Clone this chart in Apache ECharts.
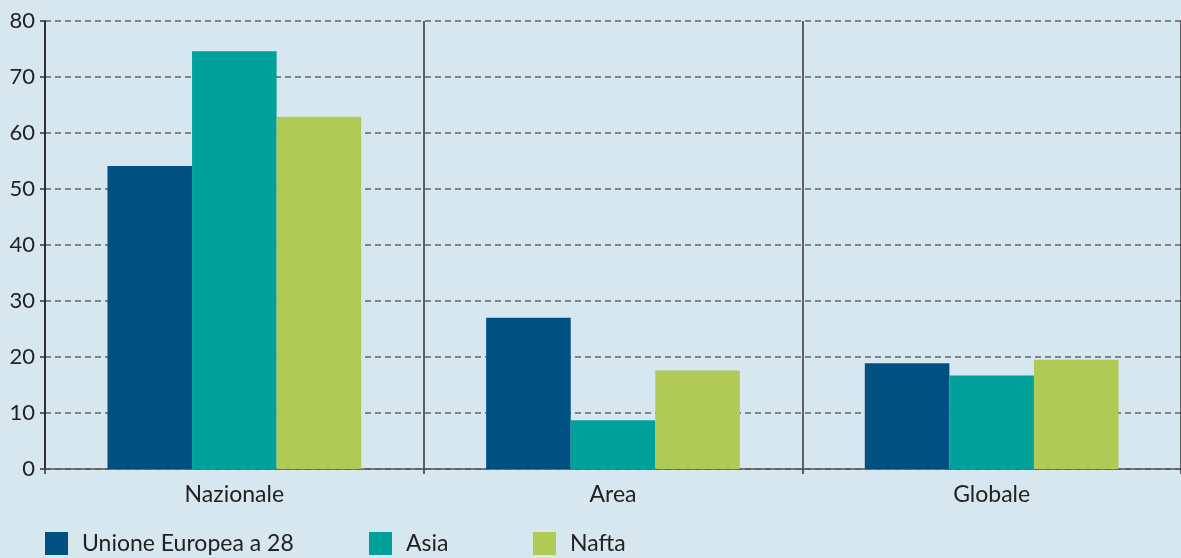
<!DOCTYPE html>
<html><head><meta charset="utf-8">
<script src="https://cdn.jsdelivr.net/npm/echarts@6/dist/echarts.min.js"></script>
<style>html,body{margin:0;padding:0;background:#d7e7ef;}#c{width:1181px;height:558px;}</style>
</head><body><div id="c"></div>
<script>
const categories = ['Nazionale', 'Area', 'Globale'];
const seriesNames = ['Unione Europea a 28', 'Asia', 'Nafta'];
const euValues = [54.1, 27.0, 18.9];
const asiaValues = [74.6, 8.7, 16.7];
const naftaValues = [62.9, 17.6, 19.5];
const yTicks = [0, 10, 20, 30, 40, 50, 60, 70, 80];

const colors = ['#005082', '#00a19a', '#afcb55'];
const font = 'Lato, "Noto Sans", sans-serif';
const chart = echarts.init(document.getElementById('c'), null, {renderer: 'canvas'});
const legendLefts = [45, 369, 533];
const values = [euValues, asiaValues, naftaValues];
chart.setOption({
  backgroundColor: '#d7e7ef',
  animation: false,
  grid: {left: 45, right: 0, top: 21, bottom: 89, containLabel: false},
  legend: seriesNames.map((n, i) => ({
    data: [n], left: legendLefts[i], top: 532, itemWidth: 23, itemHeight: 23,
    icon: 'rect', itemGap: 0, padding: 0,
    textStyle: {fontFamily: font, fontSize: 23, color: '#222', padding: [0, 0, 0, 9]}
  })),
  xAxis: {
    type: 'category', data: categories,
    axisLine: {show: true, lineStyle: {color: '#555', width: 1.5}},
    axisTick: {show: true, length: 5, lineStyle: {color: '#333', width: 1.5}},
    splitLine: {show: true, lineStyle: {color: '#333', width: 1.5, type: 'solid'}},
    axisLabel: {fontFamily: font, fontSize: 23, color: '#222', margin: 14}
  },
  yAxis: {
    type: 'value', min: yTicks[0], max: yTicks[yTicks.length - 1], interval: 10,
    axisLine: {show: true, lineStyle: {color: '#222', width: 1.5}},
    axisTick: {show: true, length: 5, lineStyle: {color: '#333', width: 1.5}},
    splitLine: {show: true, lineStyle: {color: '#5f666c', width: 1.5, type: [6, 4]}},
    axisLabel: {fontFamily: font, fontSize: 22, color: '#222', margin: 10,
      formatter: v => yTicks.includes(v) ? String(v) : ''}
  },
  series: seriesNames.map((n, i) => ({
    name: n, type: 'bar', data: values[i],
    barGap: '0%', barCategoryGap: '33%',
    itemStyle: {color: colors[i]}
  }))
});
</script></body></html>
